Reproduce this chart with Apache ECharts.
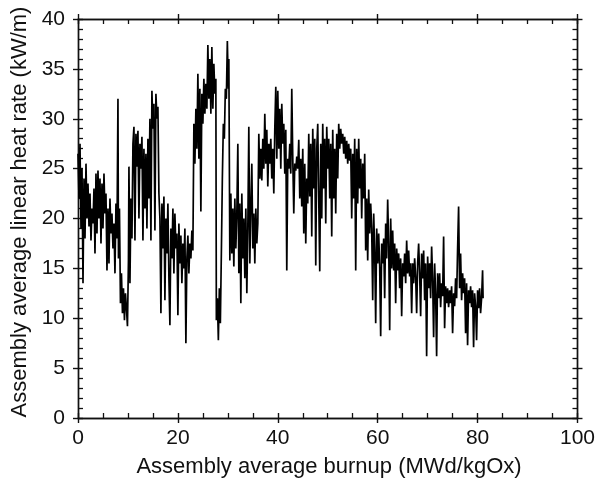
<!DOCTYPE html>
<html>
<head>
<meta charset="utf-8">
<script src="https://cdn.jsdelivr.net/npm/echarts@6/dist/echarts.min.js"></script>
<style>html,body{margin:0;padding:0;background:#fff}#c{width:598px;height:479px}</style>
</head>
<body>
<div id="c"></div>
<script>
// Burnup (MWd/kgOx), linear heat rate (kW/m) pairs
const seg0to10 = [
 [0.0,26.5],[0.2,22],[0.4,27.5],[0.6,19],[0.8,25],[1.0,13.5],[1.2,24],[1.4,18],[1.6,25.5],[1.8,20],
 [2.0,23.5],[2.2,19.2],[2.4,22.5],[2.6,17.8],[2.8,21],[3.0,19.5],[3.2,23],[3.4,16.5],[3.6,24.5],[3.8,18.5],
 [4.0,24.8],[4.2,20],[4.4,24],[4.6,17.5],[4.8,23.5],[5.0,19],[5.2,24.5],[5.4,20.5],[5.6,22.5],[5.8,14.8],
 [6.0,21],[6.2,15.5],[6.4,22],[6.6,18.5],[6.8,20.5],[7.0,17],[7.2,19.5],[7.4,14.5],[7.6,21.5],[7.8,18],
 [8.0,32],[8.1,16],[8.3,21],[8.5,11.5],[8.7,14.5],[8.9,10.5],[9.1,13],[9.3,9.8],[9.5,12.5],[9.7,11],[9.9,9.2]
];
const seg10to20 = [
 [10.1,15.8],[10.2,25.2],[10.4,13.5],[10.6,22],[10.8,18],[11.0,27.5],[11.2,29.2],[11.4,17.8],[11.6,28.5],[11.8,25.2],
 [12.0,28.8],[12.2,20],[12.4,27.5],[12.6,25],[12.8,28.2],[13.0,17.8],[13.2,27],[13.4,21],[13.6,26.5],[13.8,19],
 [14.0,28],[14.2,22],[14.4,30],[14.6,17.8],[14.8,32.8],[15.0,29],[15.2,31.5],[15.4,18.8],[15.6,32.5],[15.8,30],
 [16.0,31.2],[16.2,22.5],[16.4,20],[16.6,10.5],[16.8,21.5],[17.0,17],[17.2,22.2],[17.4,11.8],[17.6,20],[17.8,16.5],
 [18.0,21.5],[18.2,14],[18.4,9.3],[18.6,19],[18.8,16],[19.0,21],[19.2,14.5],[19.4,20.5],[19.6,17],[19.8,18.5]
];
const seg20to30 = [
 [20.0,10.3],[20.2,19.5],[20.4,15.5],[20.6,18.3],[20.8,13.5],[21.0,17.5],[21.2,15],[21.4,19],[21.6,7.5],[21.8,16],
 [22.0,18.3],[22.2,14.5],[22.4,17.5],[22.6,16],[22.8,18.8],[23.0,16.8],[23.2,29.5],[23.4,25.5],[23.6,31],[23.8,27],
 [24.0,34.5],[24.2,26],[24.4,33],[24.6,20.7],[24.8,32.5],[25.0,29.5],[25.2,34],[25.4,30.5],[25.6,33.5],[25.8,31],
 [26.0,37.4],[26.2,32],[26.4,36],[26.6,30.5],[26.8,37.2],[27.0,31],[27.2,35.5],[27.4,32.5],[27.6,34],[27.7,9.8],
 [27.9,12],[28.1,7.8],[28.3,13],[28.5,9.5],[28.7,16.5],[28.9,24],[29.1,29.5],[29.3,28],[29.5,33],[29.7,32],[29.9,37.8]
];
const seg30to40 = [
 [30.1,33],[30.2,36],[30.4,15.8],[30.6,22.5],[30.8,16.5],[31.0,21],[31.2,15.2],[31.4,22],[31.6,17],[31.8,20.5],
 [32.0,27.5],[32.2,14.5],[32.4,21.5],[32.6,11.5],[32.8,22.5],[33.0,16],[33.2,20],[33.4,14],[33.6,21],[33.8,12.5],
 [34.0,19],[34.2,29.2],[34.4,15.5],[34.6,21.2],[34.8,25.5],[35.0,17],[35.2,20.5],[35.4,15.5],[35.6,21],[35.8,17.5],
 [36.0,19.5],[36.2,28.5],[36.4,24],[36.6,27],[36.8,23.8],[37.0,28],[37.2,25],[37.4,30.5],[37.6,25.5],[37.8,28.9],
 [38.0,23.2],[38.2,27.5],[38.4,25.5],[38.6,28],[38.8,24],[39.0,27],[39.2,22.5],[39.4,29],[39.6,33.2],[39.8,26]
];
const seg40to50 = [
 [40.0,32.8],[40.2,27],[40.4,31],[40.6,25],[40.8,31.5],[41.0,27.5],[41.2,29.5],[41.4,24.5],[41.6,28.9],[41.8,14.8],
 [42.0,26],[42.2,25],[42.4,27.5],[42.6,24.5],[42.8,33],[43.0,26],[43.2,20.5],[43.4,25.5],[43.6,24.8],[43.8,26.2],
 [44.0,25],[44.2,27.9],[44.4,22],[44.6,26],[44.8,21.2],[45.0,27],[45.2,18.5],[45.4,25.5],[45.6,17.5],[45.8,24],
 [46.0,21.5],[46.2,28.5],[46.4,22.2],[46.6,27.5],[46.8,18.2],[47.0,29],[47.2,23],[47.4,28],[47.6,15.3],[47.8,27],
 [48.0,29.5],[48.2,22],[48.4,14.7],[48.6,27.5],[48.8,20],[49.0,29.5],[49.2,23],[49.4,28],[49.6,19.5],[49.8,29.2]
];
const seg50to60 = [
 [50.0,25],[50.2,28],[50.4,22],[50.6,27.5],[50.8,18.2],[51.0,28.9],[51.2,22],[51.4,27],[51.6,20.5],[51.8,28.5],
 [52.0,24],[52.2,29.5],[52.4,27],[52.6,29],[52.8,27.5],[53.0,28.5],[53.2,26.5],[53.4,28.2],[53.6,26],[53.8,27.8],
 [54.0,25.5],[54.2,27.5],[54.4,25.8],[54.6,27],[54.8,20],[55.0,26.5],[55.2,22],[55.4,28],[55.6,14.8],[55.8,27],
 [56.0,21.5],[56.2,28],[56.4,23],[56.6,26],[56.8,20],[57.0,25.5],[57.2,22],[57.4,26.5],[57.6,16.8],[57.8,22],
 [58.0,15.8],[58.2,22.9],[58.4,18.5],[58.6,21.5],[58.8,19],[59.0,11.8],[59.2,20.5],[59.4,16.8],[59.6,9.5],[59.8,19]
];
const seg60to70 = [
 [60.0,15.5],[60.2,18.5],[60.4,15.2],[60.6,8.2],[60.8,17.5],[61.0,15.5],[61.2,18],[61.4,12],[61.6,19.5],[61.8,16],
 [62.0,21.9],[62.2,17.5],[62.4,8.8],[62.6,20],[62.8,15],[63.0,18.8],[63.2,14.8],[63.4,17.5],[63.6,11.5],[63.8,17],
 [64.0,14.8],[64.2,16.5],[64.4,13],[64.6,16],[64.8,10.2],[65.0,15.5],[65.2,14.2],[65.4,16.5],[65.6,13.5],[65.8,17.8],
 [66.0,14.5],[66.2,16.8],[66.4,14.2],[66.6,15.5],[66.8,10.5],[67.0,15.5],[67.2,13.5],[67.4,16],[67.6,14.2],[67.8,10.5],
 [68.0,15.5],[68.2,17.5],[68.4,14.5],[68.6,10.2],[68.8,16.5],[69.0,14],[69.2,16.8],[69.4,11.8],[69.6,15.5],[69.8,6.2]
];
const seg70to82 = [
 [70.0,16.2],[70.2,13],[70.4,15.5],[70.6,12],[70.8,17.2],[71.0,14],[71.2,8.1],[71.4,15.5],[71.6,12.5],[71.8,6.2],
 [72.0,14.5],[72.2,12],[72.4,14.5],[72.6,11.1],[72.8,13.5],[73.0,12.2],[73.2,18.2],[73.4,9],[73.6,13.2],[73.8,11.5],
 [74.0,13],[74.2,11.1],[74.4,12.8],[74.6,11.5],[74.8,13.2],[75.0,8.5],[75.2,12.5],[75.4,11.2],[75.6,14],[75.8,12],
 [76.0,17],[76.2,21.2],[76.4,13],[76.6,16.5],[76.8,11.8],[77.0,14.5],[77.2,12.5],[77.4,14],[77.6,8.5],[77.8,13.5],
 [78.0,7.3],[78.2,12.8],[78.4,11.5],[78.6,13.2],[78.8,11.1],[79.0,12.8],[79.2,7.1],[79.4,12.5],[79.6,11.2],[79.8,7.8],
 [80.0,12.8],[80.2,11],[80.4,13],[80.6,10.5],[80.8,12],[81.0,14.8],[81.1,12]
];
const xTicks = [0, 20, 40, 60, 80, 100];
const yTicks = [0, 5, 10, 15, 20, 25, 30, 35, 40];
const xTitle = 'Assembly average burnup (MWd/kgOx)';
const yTitle = 'Assembly average linear heat rate (kW/m)';

const data = [].concat(seg0to10, seg10to20, seg20to30, seg30to40, seg40to50, seg50to60, seg60to70, seg70to82);

const FONT = 'Liberation Sans';
const axisColor = '#111';
function xAx(pos, inside, labels) {
  return {
    type: 'value', position: pos, min: xTicks[0], max: xTicks[xTicks.length-1], interval: 20,
    axisLine: {show: true, onZero: false, lineStyle: {color: axisColor, width: 1.4}},
    axisTick: {show: true, inside: inside, length: 5, lineStyle: {color: axisColor, width: 1.4}},
    minorTick: {show: inside, splitNumber: 4, length: 5, lineStyle: {color: axisColor, width: 1.3}},
    splitLine: {show: false},
    axisLabel: {show: labels, color: '#111', fontSize: 21, fontFamily: FONT, margin: 10}
  };
}
function yAx(pos, inside, labels) {
  return {
    type: 'value', position: pos, min: yTicks[0], max: yTicks[yTicks.length-1], interval: 5,
    axisLine: {show: true, onZero: false, lineStyle: {color: axisColor, width: 1.4}},
    axisTick: {show: true, inside: inside, length: 5, lineStyle: {color: axisColor, width: 1.4}},
    minorTick: {show: inside, splitNumber: 5, length: 5, lineStyle: {color: axisColor, width: 1.3}},
    splitLine: {show: false},
    axisLabel: {show: labels, color: '#111', fontSize: 21, fontFamily: FONT, margin: 13}
  };
}
const chart = echarts.init(document.getElementById('c'), null, {renderer: 'canvas'});
chart.setOption({
  backgroundColor: '#fff',
  animation: false,
  grid: {left: 78, right: 18, top: 19, bottom: 61, containLabel: false},
  xAxis: [xAx('bottom', true, true), xAx('bottom', false, false), xAx('top', true, false), xAx('top', false, false)],
  yAxis: [yAx('left', true, true), yAx('left', false, false), yAx('right', true, false), yAx('right', false, false)],
  graphic: [
    {type: 'text', x: 329, y: 467,
     style: {text: xTitle, font: '22px "Liberation Sans"', fill: '#111', textAlign: 'center', textVerticalAlign: 'middle'}},
    {type: 'text', x: 20, y: 212, rotation: Math.PI/2,
     style: {text: yTitle, font: '22px "Liberation Sans"', fill: '#111', textAlign: 'center', textVerticalAlign: 'middle'}}
  ],
  series: [{
    type: 'line', xAxisIndex: 0, yAxisIndex: 0, data: data,
    showSymbol: false, symbol: 'none',
    lineStyle: {color: '#000', width: 1.7},
    clip: true
  }]
});
</script>
</body>
</html>
